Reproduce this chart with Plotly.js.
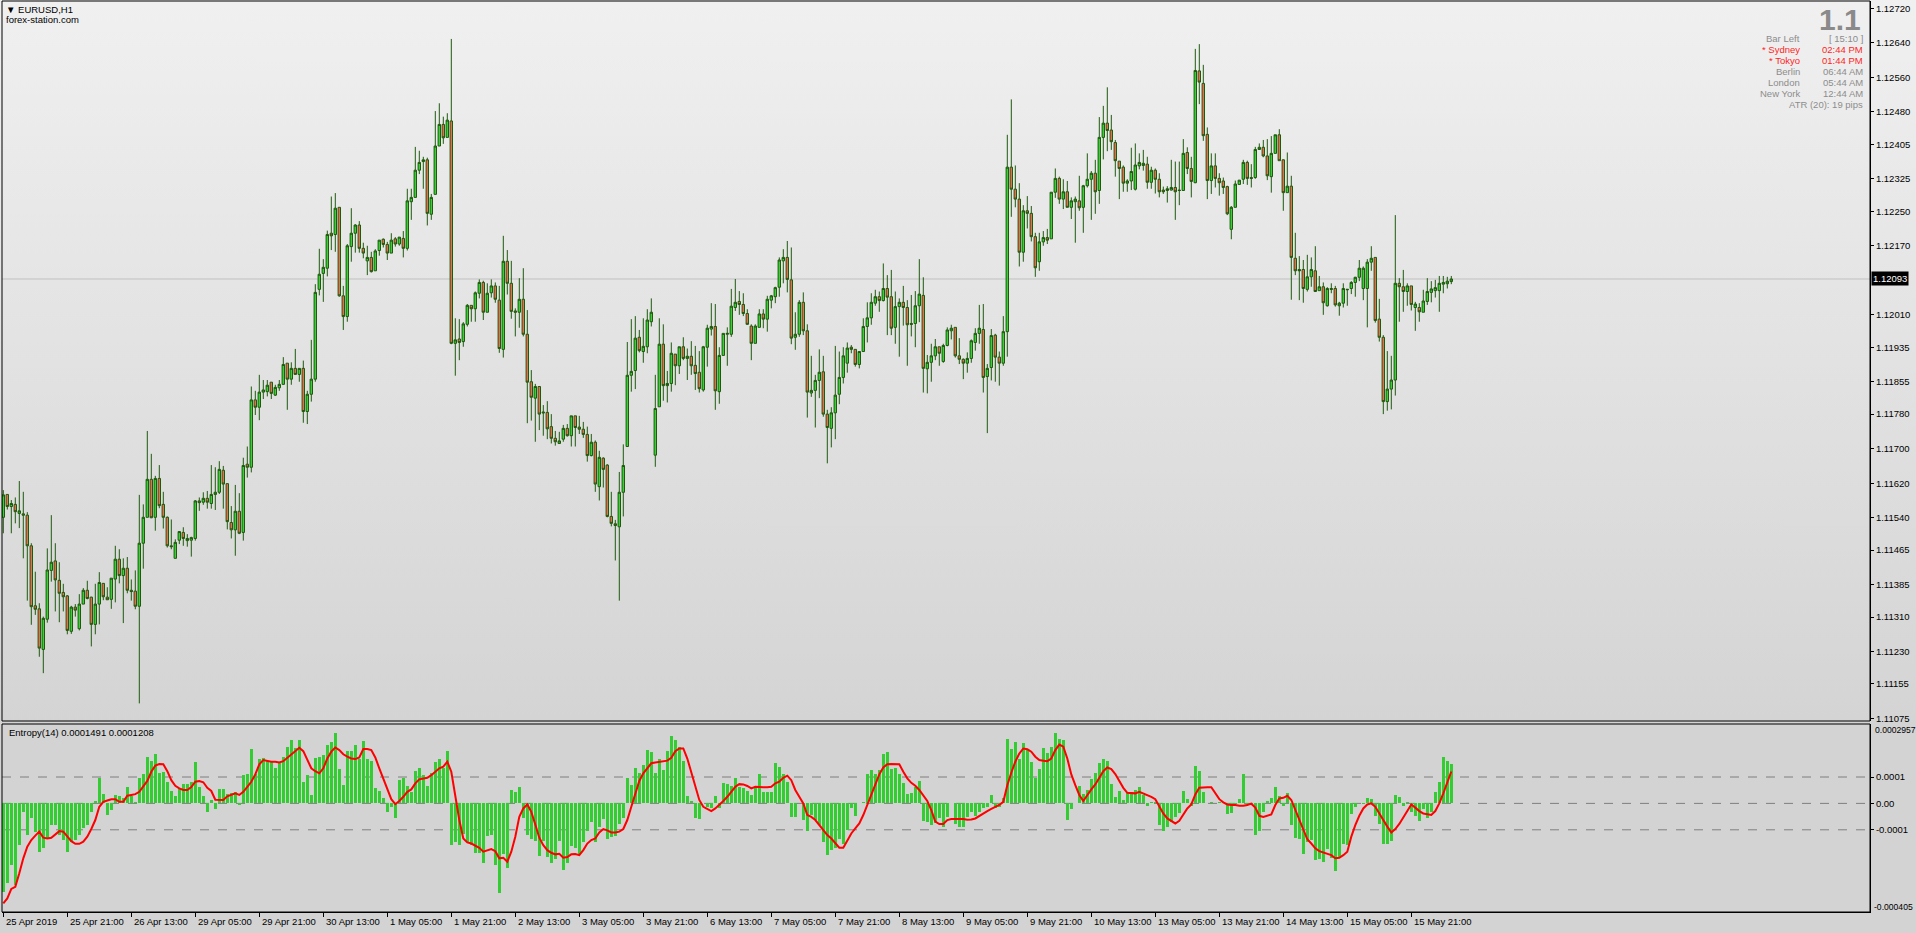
<!DOCTYPE html>
<html><head><meta charset="utf-8">
<script src="https://cdn.plot.ly/plotly-3.0.1.min.js"></script>
<style>
html,body{margin:0;padding:0;background:#d3d3d3;overflow:hidden;}
#chart{width:1916px;height:933px;background:linear-gradient(to bottom,#f0f0f0 0px,#d4d4d4 721px,#d3d3d3 722px,#d3d3d3 100%);}
</style></head><body><div id="chart"></div>
<script>
// ===== DATA: EURUSD H1 candles =====
const openP = [1.11541,1.11594,1.11566,1.11571,1.11550,1.11549,1.11546,1.11475,1.11336,1.11329,
1.11235,1.11305,1.11418,1.11440,1.11395,1.11367,1.11359,1.11277,1.11333,1.11283,
1.11340,1.11372,1.11356,1.11293,1.11340,1.11388,1.11356,1.11351,1.11398,1.11444,
1.11406,1.11423,1.11372,1.11370,1.11335,1.11481,1.11541,1.11629,1.11541,1.11631,
1.11571,1.11541,1.11475,1.11446,1.11488,1.11506,1.11487,1.11488,1.11492,1.11579,
1.11576,1.11585,1.11573,1.11594,1.11599,1.11650,1.11619,1.11529,1.11512,1.11555,
1.11506,1.11664,1.11657,1.11813,1.11796,1.11831,1.11832,1.11854,1.11824,1.11841,
1.11849,1.11898,1.11861,1.11886,1.11872,1.11886,1.11786,1.11826,1.11861,1.12069,
1.12106,1.12118,1.12199,1.12196,1.12259,1.12054,1.12006,1.12168,1.12199,1.12218,
1.12164,1.12135,1.12143,1.12112,1.12159,1.12185,1.12173,1.12153,1.12186,1.12174,
1.12187,1.12164,1.12272,1.12282,1.12345,1.12365,1.12369,1.12243,1.12289,1.12401,
1.12451,1.12421,1.12459,1.11944,1.11954,1.11948,1.11988,1.12032,1.12024,1.12060,
1.12085,1.12016,1.12061,1.12077,1.12044,1.11930,1.12134,1.12083,1.12019,1.12016,
1.12046,1.11965,1.11855,1.11817,1.11844,1.11785,1.11784,1.11751,1.11724,1.11712,
1.11722,1.11747,1.11730,1.11776,1.11750,1.11745,1.11733,1.11684,1.11715,1.11612,
1.11678,1.11662,1.11543,1.11526,1.11519,1.11599,1.11705,1.11870,1.11881,1.11958,
1.11925,1.11936,1.11994,1.11685,1.11797,1.11942,1.11846,1.11851,1.11919,1.11892,
1.11936,1.11909,1.11914,1.11893,1.11877,1.11836,1.11935,1.11977,1.11983,1.11832,
1.11916,1.11965,1.11965,1.12027,1.12041,1.12034,1.12013,1.11984,1.11944,1.11981,
1.12012,1.12000,1.12044,1.12052,1.12074,1.12135,1.12143,1.12091,1.11958,1.11965,
1.12039,1.11973,1.11829,1.11835,1.11858,1.11878,1.11780,1.11747,1.11783,1.11826,
1.11865,1.11898,1.11935,1.11930,1.11895,1.11925,1.11983,1.12003,1.12037,1.12052,
1.12043,1.12071,1.12052,1.11981,1.12029,1.12039,1.12027,1.11990,1.11990,1.12031,
1.12055,1.11885,1.11900,1.11915,1.11936,1.11902,1.11939,1.11973,1.11981,1.11915,
1.11907,1.11898,1.11909,1.11946,1.11967,1.11976,1.11867,1.11888,1.11963,1.11912,
1.11898,1.11971,1.12352,1.12301,1.12278,1.12155,1.12251,1.12245,1.12191,1.12133,
1.12179,1.12189,1.12186,1.12294,1.12326,1.12278,1.12295,1.12259,1.12272,1.12274,
1.12259,1.12309,1.12324,1.12338,1.12298,1.12421,1.12454,1.12438,1.12409,1.12366,
1.12352,1.12315,1.12320,1.12301,1.12355,1.12356,1.12359,1.12317,1.12345,1.12324,
1.12299,1.12298,1.12299,1.12305,1.12299,1.12298,1.12386,1.12349,1.12316,1.12575,
1.12546,1.12428,1.12321,1.12355,1.12326,1.12320,1.12307,1.12208,1.12259,1.12312,
1.12324,1.12363,1.12328,1.12328,1.12393,1.12398,1.12378,1.12330,1.12384,1.12427,
1.12369,1.12293,1.12308,1.12141,1.12115,1.12115,1.12069,1.12098,1.12112,1.12066,
1.12075,1.12031,1.12071,1.12071,1.12031,1.12037,1.12068,1.12071,1.12085,1.12097,
1.12071,1.12071,1.12132,1.12143,1.12000,1.11958,1.11809,1.11838,1.11859,1.12083,
1.12075,1.12064,1.12077,1.12027,1.12027,1.12016,1.12041,1.12062,1.12066,1.12066,
1.12081,1.12082,1.12087];
const highP = [1.11604,1.11594,1.11581,1.11587,1.11625,1.11600,1.11553,1.11481,1.11415,1.11342,
1.11311,1.11469,1.11546,1.11481,1.11437,1.11387,1.11361,1.11336,1.11340,1.11363,
1.11377,1.11394,1.11357,1.11387,1.11414,1.11388,1.11379,1.11400,1.11475,1.11467,
1.11446,1.11449,1.11397,1.11418,1.11593,1.11571,1.11741,1.11688,1.11637,1.11662,
1.11600,1.11543,1.11536,1.11490,1.11508,1.11518,1.11502,1.11496,1.11581,1.11587,
1.11599,1.11602,1.11662,1.11657,1.11671,1.11660,1.11619,1.11567,1.11616,1.11597,
1.11679,1.11705,1.11844,1.11834,1.11871,1.11859,1.11859,1.11854,1.11848,1.11859,
1.11912,1.11898,1.11900,1.11931,1.11886,1.11904,1.11834,1.11952,1.12081,1.12163,
1.12139,1.12205,1.12284,1.12292,1.12259,1.12077,1.12174,1.12257,1.12220,1.12227,
1.12177,1.12170,1.12156,1.12162,1.12183,1.12187,1.12179,1.12199,1.12190,1.12190,
1.12204,1.12302,1.12302,1.12399,1.12390,1.12376,1.12374,1.12290,1.12482,1.12500,
1.12469,1.12477,1.12649,1.12002,1.12000,1.11993,1.12035,1.12032,1.12064,1.12092,
1.12089,1.12083,1.12092,1.12085,1.12077,1.12193,1.12160,1.12135,1.12025,1.12095,
1.12118,1.12021,1.11882,1.11850,1.11844,1.11801,1.11810,1.11780,1.11741,1.11739,
1.11755,1.11757,1.11776,1.11776,1.11776,1.11762,1.11751,1.11734,1.11719,1.11695,
1.11680,1.11664,1.11600,1.11535,1.11646,1.11710,1.11947,1.12000,1.12007,1.11975,
1.12002,1.12023,1.12048,1.11871,1.12002,1.11988,1.11880,1.11946,1.11919,1.11936,
1.11958,1.11932,1.11949,1.11938,1.11926,1.11938,1.11987,1.12037,1.12035,1.11935,
1.11967,1.11981,1.12070,1.12093,1.12065,1.12060,1.12023,1.11988,1.11988,1.12023,
1.12023,1.12054,1.12056,1.12075,1.12143,1.12162,1.12181,1.12166,1.12016,1.12044,
1.12062,1.11988,1.11915,1.11871,1.11930,1.11915,1.11790,1.11796,1.11938,1.11925,
1.11935,1.11946,1.11940,1.11930,1.11926,1.12002,1.12039,1.12060,1.12068,1.12064,
1.12129,1.12102,1.12114,1.12064,1.12048,1.12077,1.12044,1.12056,1.12065,1.12139,
1.12097,1.11917,1.11943,1.11954,1.11936,1.11943,1.11981,1.11987,1.11981,1.11956,
1.11909,1.11923,1.11953,1.11979,1.12033,1.12035,1.11896,1.11977,1.11966,1.11925,
1.12007,1.12427,1.12509,1.12356,1.12315,1.12264,1.12285,1.12262,1.12200,1.12200,
1.12204,1.12209,1.12294,1.12349,1.12330,1.12324,1.12320,1.12282,1.12284,1.12332,
1.12311,1.12384,1.12343,1.12369,1.12468,1.12494,1.12537,1.12473,1.12415,1.12366,
1.12356,1.12324,1.12397,1.12407,1.12384,1.12392,1.12376,1.12353,1.12349,1.12338,
1.12307,1.12308,1.12369,1.12365,1.12365,1.12417,1.12398,1.12376,1.12626,1.12637,
1.12589,1.12444,1.12384,1.12384,1.12338,1.12328,1.12309,1.12262,1.12321,1.12322,
1.12369,1.12367,1.12359,1.12399,1.12407,1.12415,1.12417,1.12424,1.12427,1.12440,
1.12370,1.12386,1.12332,1.12200,1.12146,1.12137,1.12149,1.12143,1.12169,1.12100,
1.12085,1.12074,1.12083,1.12077,1.12040,1.12083,1.12069,1.12088,1.12098,1.12137,
1.12122,1.12139,1.12169,1.12143,1.12047,1.11963,1.11926,1.11915,1.12241,1.12095,
1.12114,1.12083,1.12077,1.12040,1.12037,1.12068,1.12095,1.12088,1.12091,1.12100,
1.12100,1.12098,1.12100];
const lowP = [1.11504,1.11559,1.11504,1.11527,1.11516,1.11446,1.11348,1.11292,1.11315,1.11218,
1.11180,1.11297,1.11392,1.11323,1.11298,1.11323,1.11270,1.11271,1.11311,1.11279,
1.11340,1.11351,1.11242,1.11270,1.11293,1.11349,1.11350,1.11329,1.11344,1.11388,
1.11296,1.11365,1.11348,1.11328,1.11110,1.11422,1.11541,1.11539,1.11510,1.11562,
1.11515,1.11471,1.11467,1.11446,1.11479,1.11475,1.11473,1.11450,1.11487,1.11556,
1.11570,1.11561,1.11561,1.11558,1.11595,1.11561,1.11513,1.11492,1.11452,1.11502,
1.11487,1.11633,1.11645,1.11778,1.11766,1.11815,1.11821,1.11815,1.11822,1.11834,
1.11848,1.11790,1.11848,1.11872,1.11855,1.11760,1.11757,1.11809,1.11855,1.12055,
1.12040,1.12099,1.12160,1.12156,1.12052,1.11975,1.11994,1.12133,1.12154,1.12154,
1.12141,1.12102,1.12108,1.12112,1.12147,1.12166,1.12137,1.12153,1.12168,1.12170,
1.12143,1.12159,1.12230,1.12282,1.12336,1.12302,1.12217,1.12230,1.12289,1.12401,
1.12406,1.12421,1.11942,1.11869,1.11905,1.11936,1.11983,1.11994,1.11994,1.12048,
1.11998,1.12016,1.12050,1.12038,1.11922,1.11911,1.12057,1.12001,1.11960,1.11980,
1.11960,1.11759,1.11765,1.11716,1.11743,1.11730,1.11722,1.11712,1.11707,1.11712,
1.11716,1.11728,1.11705,1.11705,1.11734,1.11725,1.11670,1.11682,1.11600,1.11580,
1.11610,1.11541,1.11520,1.11441,1.11348,1.11543,1.11705,1.11832,1.11838,1.11923,
1.11899,1.11921,1.11983,1.11658,1.11797,1.11811,1.11807,1.11832,1.11847,1.11873,
1.11905,1.11859,1.11871,1.11836,1.11830,1.11832,1.11890,1.11962,1.11790,1.11804,
1.11916,1.11892,1.11959,1.12019,1.12010,1.12007,1.11987,1.11905,1.11944,1.11981,
1.11979,1.11971,1.12025,1.12037,1.12052,1.12083,1.12062,1.11942,1.11929,1.11959,
1.11963,1.11772,1.11820,1.11749,1.11817,1.11774,1.11666,1.11703,1.11722,1.11803,
1.11851,1.11876,1.11921,1.11890,1.11886,1.11925,1.11946,1.11987,1.12031,1.12017,
1.12041,1.11963,1.11963,1.11943,1.11913,1.11985,1.11892,1.11960,1.11935,1.11993,
1.11830,1.11828,1.11855,1.11905,1.11892,1.11899,1.11937,1.11953,1.11911,1.11896,
1.11861,1.11876,1.11899,1.11927,1.11943,1.11830,1.11736,1.11858,1.11855,1.11846,
1.11892,1.11913,1.12237,1.12259,1.12122,1.12133,1.12210,1.12180,1.12098,1.12112,
1.12170,1.12174,1.12186,1.12281,1.12267,1.12255,1.12259,1.12232,1.12177,1.12251,
1.12200,1.12305,1.12230,1.12244,1.12267,1.12370,1.12389,1.12392,1.12330,1.12278,
1.12295,1.12295,1.12299,1.12298,1.12347,1.12344,1.12302,1.12302,1.12291,1.12282,
1.12290,1.12270,1.12298,1.12230,1.12264,1.12298,1.12336,1.12282,1.12315,1.12498,
1.12413,1.12278,1.12290,1.12305,1.12286,1.12290,1.12241,1.12185,1.12259,1.12312,
1.12313,1.12311,1.12305,1.12325,1.12392,1.12375,1.12322,1.12293,1.12384,1.12367,
1.12251,1.12293,1.12045,1.12102,1.12044,1.12038,1.12064,1.12075,1.12064,1.12066,
1.12010,1.12029,1.12060,1.12029,1.12008,1.12027,1.12031,1.12058,1.12052,1.12088,
1.12044,1.11981,1.12112,1.11992,1.11948,1.11780,1.11788,1.11791,1.11823,1.11994,
1.12017,1.12031,1.12020,1.11973,1.11994,1.12016,1.12033,1.12039,1.12050,1.12017,
1.12060,1.12071,1.12081];
const closeP = [1.11593,1.11566,1.11573,1.11554,1.11556,1.11546,1.11475,1.11334,1.11328,1.11238,
1.11307,1.11419,1.11437,1.11396,1.11365,1.11357,1.11279,1.11333,1.11326,1.11340,
1.11372,1.11353,1.11293,1.11340,1.11390,1.11357,1.11350,1.11400,1.11444,1.11406,
1.11423,1.11372,1.11369,1.11335,1.11481,1.11541,1.11629,1.11540,1.11631,1.11568,
1.11541,1.11475,1.11473,1.11483,1.11508,1.11492,1.11492,1.11494,1.11579,1.11575,
1.11585,1.11576,1.11594,1.11599,1.11652,1.11618,1.11531,1.11512,1.11555,1.11504,
1.11661,1.11657,1.11813,1.11796,1.11831,1.11836,1.11847,1.11828,1.11842,1.11849,
1.11895,1.11861,1.11886,1.11872,1.11886,1.11786,1.11826,1.11861,1.12062,1.12104,
1.12120,1.12196,1.12193,1.12257,1.12054,1.12006,1.12170,1.12199,1.12218,1.12164,
1.12153,1.12143,1.12110,1.12158,1.12183,1.12173,1.12153,1.12183,1.12174,1.12190,
1.12164,1.12274,1.12282,1.12345,1.12363,1.12369,1.12245,1.12282,1.12401,1.12451,
1.12420,1.12461,1.11944,1.11952,1.11946,1.11989,1.12032,1.12024,1.12061,1.12085,
1.12016,1.12060,1.12077,1.12046,1.11932,1.12134,1.12083,1.12018,1.12016,1.12046,
1.11965,1.11854,1.11819,1.11844,1.11780,1.11783,1.11746,1.11724,1.11716,1.11718,
1.11747,1.11730,1.11776,1.11749,1.11745,1.11733,1.11684,1.11715,1.11618,1.11680,
1.11652,1.11543,1.11527,1.11522,1.11599,1.11661,1.11870,1.11879,1.11956,1.11927,
1.11937,1.11998,1.12016,1.11793,1.11942,1.11846,1.11851,1.11921,1.11892,1.11936,
1.11909,1.11914,1.11892,1.11874,1.11839,1.11936,1.11979,1.11983,1.11834,1.11916,
1.11967,1.11967,1.12030,1.12039,1.12034,1.12013,1.11988,1.11944,1.11984,1.12012,
1.12000,1.12046,1.12054,1.12073,1.12137,1.12143,1.12092,1.11956,1.11965,1.12039,
1.11973,1.11831,1.11835,1.11858,1.11877,1.11780,1.11749,1.11783,1.11824,1.11865,
1.11915,1.11933,1.11930,1.11895,1.11925,1.11983,1.12003,1.12039,1.12052,1.12043,
1.12071,1.12051,1.11979,1.12029,1.12039,1.12027,1.11987,1.11988,1.12031,1.12058,
1.11886,1.11900,1.11915,1.11936,1.11921,1.11939,1.11975,1.11979,1.11915,1.11907,
1.11898,1.11909,1.11950,1.11967,1.11979,1.11865,1.11886,1.11962,1.11912,1.11898,
1.11971,1.12352,1.12301,1.12278,1.12155,1.12251,1.12245,1.12191,1.12119,1.12179,
1.12189,1.12183,1.12294,1.12326,1.12278,1.12295,1.12259,1.12274,1.12278,1.12258,
1.12309,1.12324,1.12338,1.12295,1.12421,1.12454,1.12437,1.12411,1.12367,1.12349,
1.12315,1.12320,1.12342,1.12357,1.12363,1.12361,1.12317,1.12345,1.12324,1.12295,
1.12295,1.12302,1.12305,1.12295,1.12298,1.12384,1.12349,1.12319,1.12576,1.12549,
1.12425,1.12321,1.12355,1.12326,1.12316,1.12305,1.12244,1.12259,1.12313,1.12322,
1.12363,1.12326,1.12326,1.12393,1.12398,1.12378,1.12332,1.12384,1.12427,1.12367,
1.12293,1.12308,1.12143,1.12112,1.12112,1.12071,1.12098,1.12115,1.12064,1.12075,
1.12038,1.12071,1.12069,1.12033,1.12037,1.12071,1.12069,1.12085,1.12097,1.12118,
1.12118,1.12132,1.12141,1.11997,1.11958,1.11809,1.11838,1.11859,1.12083,1.12075,
1.12064,1.12077,1.12034,1.12035,1.12017,1.12042,1.12064,1.12070,1.12073,1.12083,
1.12085,1.12088,1.12093];

// Entropy(14) indicator, in units of 0.0001
const entropyHist = [-3.35,-3.03,-2.34,-3.09,-1.58,-0.32,-1.20,-0.57,-1.07,-1.83,
-1.70,-1.33,-0.82,-0.82,-1.20,-1.39,-1.83,-1.45,-1.39,-1.20,
-0.95,-0.82,-0.32,0.09,0.98,0.34,-0.44,-0.25,0.32,0.29,
0.21,0.63,0.29,0.04,0.95,1.10,1.74,1.62,1.86,1.16,
1.20,0.82,0.47,0.28,0.59,0.72,0.74,0.82,1.55,0.63,
0.28,-0.34,0.13,-0.21,0.53,0.53,0.35,0.38,0.44,-0.06,
1.07,1.10,2.06,1.11,1.67,1.73,1.62,1.62,1.33,1.58,
1.77,2.12,2.40,2.11,2.42,0.80,1.07,0.32,1.73,1.77,
1.83,2.23,2.31,2.65,1.29,0.69,1.99,1.99,2.21,1.70,
2.36,1.70,1.62,0.57,0.48,0.19,-0.32,-0.13,-0.54,0.88,
0.98,0.66,0.44,1.24,1.35,1.07,0.66,1.14,1.55,1.70,
1.33,1.98,-1.58,-1.45,-1.58,-1.14,-1.45,-1.58,-1.86,-1.86,
-2.27,-1.24,-1.20,-2.34,-3.38,-1.93,-2.44,0.51,0.42,0.62,
-0.57,-1.20,-1.33,-1.41,-1.98,-1.43,-2.02,-2.27,-2.12,-1.41,
-2.53,-2.27,-1.60,-1.70,-1.92,-1.48,-1.05,-0.69,-1.48,-0.88,
-0.59,-1.33,-1.29,-1.22,-0.78,-0.57,0.95,0.69,1.33,1.17,
1.45,2.02,1.96,1.14,1.68,1.26,1.98,2.55,2.40,2.15,
1.60,0.28,0.09,-0.54,-0.59,0.00,-0.15,-0.19,0.28,-0.19,
0.76,0.72,0.66,0.97,0.63,0.59,0.47,0.32,0.57,1.10,
0.44,0.44,0.44,1.52,1.39,1.10,0.80,-0.51,-0.51,0.00,
-0.63,-1.04,-0.44,-0.63,-0.82,-1.45,-1.96,-1.77,-1.70,-1.33,
-1.52,-1.01,-0.19,-0.47,0.00,0.06,1.10,1.26,1.10,1.26,
1.86,1.93,1.29,1.33,1.10,0.76,0.35,0.38,0.63,0.85,
-0.66,-0.69,-0.80,-0.76,-0.57,-0.88,-0.51,0.00,-0.77,-0.88,
-0.88,-0.52,-0.34,-0.47,-0.34,-0.16,-0.13,0.32,-0.16,-0.13,
0.21,2.44,2.06,2.31,1.70,2.30,2.02,1.55,0.98,1.30,
2.11,1.92,2.12,2.65,2.44,2.40,-0.63,-0.21,0.00,0.66,
0.35,0.51,0.92,1.14,1.52,1.68,1.60,0.72,0.25,0.47,
0.13,0.44,0.44,0.51,0.62,0.32,-0.09,0.04,0.04,-0.82,
-1.04,-0.88,-0.69,-0.51,-0.35,0.47,0.16,-0.09,1.41,1.22,
0.42,0.00,0.04,0.00,0.04,0.03,-0.40,-0.35,-0.03,0.16,
1.10,-0.06,-0.06,-1.20,-1.04,-0.34,0.10,0.21,0.62,0.29,
-0.09,0.38,-0.80,-1.30,-1.33,-1.91,-1.45,-1.39,-2.15,-2.11,
-2.21,-1.73,-2.06,-2.55,-2.08,-1.52,-1.58,-0.42,-0.14,0.00,
-0.01,0.21,0.16,-0.47,-0.78,-1.54,-1.54,-1.43,0.32,0.25,
-0.09,0.04,-0.34,-0.47,-0.66,-0.21,-0.54,-0.34,0.44,0.82,
1.74,1.62,1.491];
const entropySignal = [-3.79,-3.60,-3.24,-3.16,-2.65,-2.08,-1.64,-1.39,-1.22,-1.07,
-1.30,-1.33,-1.30,-1.17,-1.05,-1.07,-1.24,-1.43,-1.53,-1.53,
-1.45,-1.26,-0.97,-0.63,-0.13,0.06,0.11,0.16,0.16,0.06,
0.06,0.29,0.32,0.35,0.44,0.63,0.85,1.20,1.43,1.49,
1.48,1.22,0.88,0.67,0.57,0.51,0.51,0.62,0.82,0.85,
0.80,0.59,0.47,0.14,0.13,0.13,0.27,0.32,0.38,0.32,
0.44,0.63,0.82,1.10,1.48,1.64,1.60,1.58,1.58,1.55,
1.60,1.73,1.86,1.96,2.11,1.98,1.64,1.33,1.22,1.14,
1.33,1.70,1.96,2.12,2.02,1.86,1.77,1.70,1.68,1.74,
2.06,2.06,2.02,1.74,1.33,0.92,0.51,0.16,-0.03,0.09,
0.25,0.44,0.53,0.76,0.91,0.95,0.97,1.07,1.20,1.33,
1.39,1.58,1.20,0.25,-0.63,-1.33,-1.48,-1.52,-1.60,-1.68,
-1.83,-1.77,-1.73,-1.81,-2.08,-2.06,-2.21,-1.83,-1.26,-0.51,
-0.19,-0.04,-0.32,-0.80,-1.30,-1.58,-1.77,-1.87,-1.93,-1.91,
-2.06,-2.03,-1.93,-1.92,-1.96,-1.77,-1.52,-1.39,-1.33,-1.10,
-0.97,-1.02,-1.10,-1.10,-1.07,-0.97,-0.63,-0.13,0.38,0.85,
1.14,1.35,1.52,1.55,1.58,1.60,1.62,1.73,1.98,2.08,
2.08,1.70,1.20,0.69,0.13,-0.13,-0.21,-0.29,-0.19,-0.06,
0.09,0.25,0.44,0.63,0.73,0.72,0.66,0.57,0.63,0.61,
0.61,0.61,0.63,0.76,0.82,0.97,1.05,0.88,0.51,0.25,
0.00,-0.44,-0.51,-0.63,-0.82,-1.01,-1.20,-1.33,-1.52,-1.68,
-1.68,-1.39,-1.14,-0.95,-0.76,-0.44,-0.06,0.38,0.76,1.10,
1.36,1.48,1.49,1.49,1.48,1.20,0.95,0.78,0.67,0.51,
0.29,0.09,-0.25,-0.69,-0.78,-0.78,-0.63,-0.59,-0.59,-0.59,
-0.59,-0.62,-0.61,-0.57,-0.47,-0.38,-0.29,-0.21,-0.13,-0.06,
0.06,0.69,1.16,1.58,1.89,2.08,2.05,1.96,1.77,1.64,
1.62,1.60,1.70,2.02,2.23,2.15,1.70,1.10,0.69,0.32,
0.09,0.32,0.53,0.72,0.97,1.22,1.36,1.30,1.11,0.85,
0.59,0.40,0.38,0.38,0.44,0.38,0.32,0.25,0.16,-0.13,
-0.38,-0.57,-0.67,-0.76,-0.66,-0.42,-0.19,-0.04,0.34,0.59,
0.61,0.61,0.61,0.38,0.16,0.04,-0.04,-0.06,-0.06,-0.09,
-0.09,-0.06,-0.01,-0.16,-0.47,-0.51,-0.47,-0.42,-0.06,0.19,
0.21,0.29,0.13,-0.25,-0.63,-1.01,-1.36,-1.52,-1.70,-1.81,
-1.86,-1.89,-1.96,-2.08,-2.06,-1.96,-1.83,-1.26,-0.82,-0.47,
-0.19,-0.04,0.00,-0.13,-0.38,-0.66,-0.88,-1.10,-0.97,-0.78,
-0.54,-0.29,-0.04,-0.16,-0.29,-0.38,-0.42,-0.44,-0.29,0.00,
0.38,0.76,1.208];

const dateLabels = ["25 Apr 2019","25 Apr 21:00","26 Apr 13:00","29 Apr 05:00","29 Apr 21:00","30 Apr 13:00",
"1 May 05:00","1 May 21:00","2 May 13:00","3 May 05:00","3 May 21:00","6 May 13:00","7 May 05:00",
"7 May 21:00","8 May 13:00","9 May 05:00","9 May 21:00","10 May 13:00","13 May 05:00","13 May 21:00",
"14 May 13:00","15 May 05:00","15 May 21:00"];
const barsPerLabel = 16;
const priceTicks = [1.12720,1.12640,1.12560,1.12480,1.12405,1.12325,1.12250,1.12170,1.12010,1.11935,
1.11855,1.11780,1.11700,1.11620,1.11540,1.11465,1.11385,1.11310,1.11230,1.11155,1.11075];
const currentPrice = 1.12093;
const indTicks = [1, 0, -1];
const indTickText = ["0.0001","0.00","-0.0001"];
const indMaxLabel = "0.0002957", indMinLabel = "-0.000405";
const infoRows = [["Bar Left","[ 15:10 ]","#8c8c8c"],["* Sydney","02:44 PM","#ff1e1e"],["* Tokyo","01:44 PM","#ff1e1e"],
["Berlin","06:44 AM","#8c8c8c"],["London","05:44 AM","#8c8c8c"],["New York","12:44 AM","#8c8c8c"]];

// ===== LAYOUT GEOMETRY =====
const W=1916, H=933, L=2, R=1870, T=1, B=912;
const px = x => (x-L)/(R-L);
const py = y => (B-y)/(B-T);
const FONT = "Liberation Sans, Arial, sans-serif";
const idx = openP.map((_, i) => i);
const labelPos = dateLabels.map((_, k) => k*barsPerLabel);

const traces = [
  {type:'candlestick', x: idx, open: openP, high: highP, low: lowP, close: closeP,
   xaxis:'x', yaxis:'y', whiskerwidth:0, hoverinfo:'skip',
   increasing:{line:{color:'#1f5a0c', width:1}, fillcolor:'#36d236'},
   decreasing:{line:{color:'#1f5a0c', width:1}, fillcolor:'#e6704c'}},
  {type:'bar', x: idx, y: entropyHist, xaxis:'x', yaxis:'y2', width:0.62,
   marker:{color:'#33cc33', line:{width:0}}, hoverinfo:'skip'},
  {type:'scatter', mode:'lines', x: idx, y: entropySignal, xaxis:'x', yaxis:'y2',
   line:{color:'#ff0000', width:2}, hoverinfo:'skip'}
];

const ann = (text, x, y, xanchor, font, extra) => Object.assign({
  text, xref:'paper', yref:'paper', x: px(x), y: py(y), xanchor, yanchor:'middle',
  showarrow:false, font: Object.assign({family:FONT, size:9.5, color:'#000'}, font||{})}, extra||{});

const annotations = [];
annotations.push(ann('\u25BC EURUSD,H1', 4, 10, 'left', {size:9.5}));
annotations.push(ann('forex-station.com', 4, 20, 'left', {size:9.5}));
annotations.push(ann('<b>1.1</b>', 1863, 19, 'right', {size:30, color:'#8a8a8a'}));
infoRows.forEach((r, k) => {
  const y = 39 + k*10.8;
  annotations.push(ann(r[0], 1802, y, 'right', {size:9.5, color:r[2]}));
  annotations.push(ann(r[1], 1865, y, 'right', {size:9.5, color:r[2]}));
});
annotations.push(ann('ATR (20): 19 pips', 1865, 104.5, 'right', {size:9.5, color:'#8c8c8c'}));
annotations.push(ann('Entropy(14) 0.0001491 0.0001208', 7, 732, 'left', {size:9.5}));
annotations.push(ann(indMaxLabel, 1873, 730, 'left', {size:8.6}));
annotations.push(ann(indMinLabel, 1872, 907, 'left', {size:8.6}));
annotations.push({text: currentPrice.toFixed(5), xref:'paper', yref:'y', x: px(1871), y: currentPrice,
  xanchor:'left', yanchor:'middle', showarrow:false, bgcolor:'#000000', borderpad:1,
  font:{family:FONT, size:9.5, color:'#ffffff'}});
dateLabels.forEach((t, k) => annotations.push({text:t, xref:'x', yref:'paper', x: labelPos[k], y: py(922),
  xanchor:'left', yanchor:'middle', xshift:1, showarrow:false, font:{family:FONT, size:9.5, color:'#000'}}));

const shapes = [
  {type:'line', xref:'paper', yref:'y', x0:0, x1:1, y0:currentPrice, y1:currentPrice, line:{color:'#c0c0c0', width:1}, layer:'below'},
  {type:'rect', xref:'paper', yref:'paper', x0:0, x1:1, y0:py(721), y1:py(1), line:{color:'#000', width:1}},
  {type:'rect', xref:'paper', yref:'paper', x0:0, x1:1, y0:0, y1:py(724), line:{color:'#000', width:1}}
];
indTicks.forEach(v => shapes.push({type:'line', xref:'paper', yref:'y2', x0:0, x1:1, y0:v, y1:v,
  line:{color:'#7f7f7f', width:1, dash:'dash'}, layer:'below'}));

const layout = {
  width:W, height:H, margin:{l:L, r:W-R, t:T, b:H-B, pad:0},
  paper_bgcolor:'rgba(0,0,0,0)', plot_bgcolor:'rgba(0,0,0,0)',
  showlegend:false, hovermode:false, dragmode:false,
  boxgap:0.4, boxgroupgap:0,
  xaxis:{range:[-0.325, 466.675], anchor:'y2', tickvals:labelPos, ticks:'outside', ticklen:4, tickcolor:'#000',
    showticklabels:false, showline:true, linecolor:'#000', showgrid:false, zeroline:false,
    rangeslider:{visible:false}, fixedrange:true},
  yaxis:{domain:[py(721), 1], range:[1.110692, 1.127369], side:'right', anchor:'x',
    tickvals:priceTicks, tickformat:'.5f', ticks:'outside', ticklen:3, tickcolor:'#000',
    showline:true, linecolor:'#000', showgrid:false, zeroline:false, fixedrange:true,
    tickfont:{family:FONT, size:9.5, color:'#000'}},
  yaxis2:{domain:[0, py(724)], range:[-4.114, 3.008], side:'right', anchor:'x',
    tickvals:indTicks, ticktext:indTickText, ticks:'outside', ticklen:3, tickcolor:'#000',
    showline:true, linecolor:'#000', showgrid:false, zeroline:false, fixedrange:true,
    tickfont:{family:FONT, size:9.5, color:'#000'}},
  bargap:0, shapes, annotations
};
Plotly.newPlot('chart', traces, layout, {displayModeBar:false, staticPlot:true});
</script>
</body></html>
